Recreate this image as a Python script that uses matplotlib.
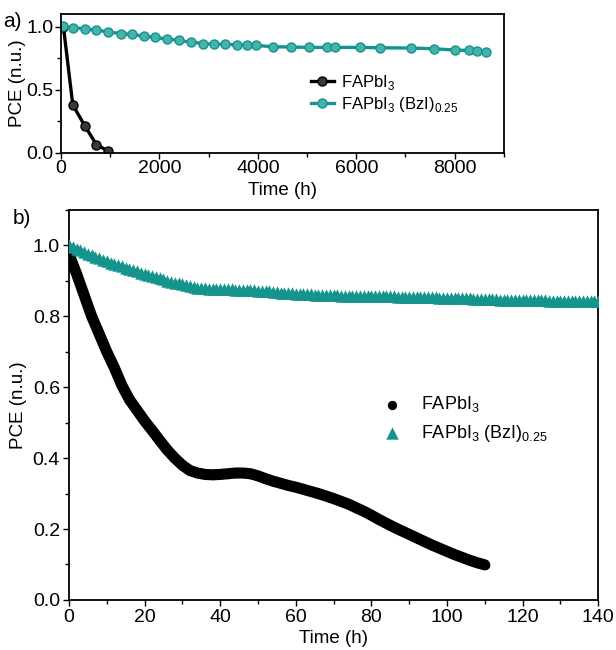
import matplotlib
matplotlib.use("Agg")
import matplotlib.pyplot as plt
from matplotlib.ticker import MultipleLocator

plt.rcParams['font.family'] = ['Liberation Sans', 'DejaVu Sans']
plt.rcParams['mathtext.fontset'] = 'custom'
plt.rcParams['mathtext.rm'] = 'Liberation Sans'

TEAL = '#15948e'

# a) long-term stability, sampled every few hundred hours
t_long_ref = [50, 240, 490, 720, 950]
pce_long_ref = [1.00, 0.38, 0.21, 0.065, 0.015]

t_long_bzi = [50, 240, 490, 720, 960, 1210, 1440, 1690, 1920, 2160, 2400,
              2640, 2880, 3110, 3340, 3570, 3790, 3960, 4310, 4680, 5040,
              5410, 5560, 6070, 6480, 7110, 7590, 8000, 8290, 8450, 8640]
pce_long_bzi = [1.005, 0.995, 0.984, 0.974, 0.960, 0.947, 0.940, 0.926,
                0.916, 0.903, 0.892, 0.879, 0.868, 0.863, 0.861, 0.858,
                0.853, 0.853, 0.842, 0.840, 0.837, 0.837, 0.837, 0.837,
                0.834, 0.832, 0.826, 0.816, 0.813, 0.810, 0.803]

# b) first 140 h
t_short_ref = list(range(0, 111, 2))
pce_short_ref = [0.975, 0.92, 0.86, 0.80, 0.75, 0.70, 0.655, 0.605, 0.565,
                 0.535, 0.505, 0.478, 0.45, 0.423, 0.40, 0.38, 0.365, 0.358,
                 0.354, 0.353, 0.354, 0.356, 0.358, 0.358, 0.356, 0.35,
                 0.342, 0.335, 0.329, 0.323, 0.318, 0.312, 0.306, 0.30,
                 0.293, 0.286, 0.278, 0.27, 0.26, 0.25, 0.239, 0.227, 0.216,
                 0.205, 0.195, 0.185, 0.175, 0.165, 0.155, 0.146, 0.137,
                 0.128, 0.12, 0.112, 0.105, 0.099]

t_short_bzi = list(range(0, 141))
pce_short_bzi = [
    1.000, 0.995, 0.991, 0.986, 0.982, 0.977, 0.973, 0.968, 0.964, 0.959,
    0.955, 0.951, 0.948, 0.944, 0.941, 0.937, 0.934, 0.930, 0.927, 0.923,
    0.920, 0.917, 0.914, 0.910, 0.907, 0.904, 0.901, 0.898, 0.895, 0.893,
    0.890, 0.888, 0.885, 0.883, 0.881, 0.880, 0.879, 0.878, 0.878, 0.877,
    0.877, 0.877, 0.876, 0.876, 0.875, 0.875, 0.874, 0.874, 0.873, 0.873,
    0.872, 0.871, 0.871, 0.870, 0.869, 0.868, 0.867, 0.866, 0.866, 0.865,
    0.864, 0.863, 0.863, 0.862, 0.862, 0.861, 0.861, 0.860, 0.860, 0.859,
    0.859, 0.859, 0.858, 0.858, 0.858, 0.858, 0.857, 0.857, 0.857, 0.857,
    0.857, 0.857, 0.856, 0.856, 0.856, 0.856, 0.856, 0.855, 0.855, 0.855,
    0.855, 0.855, 0.855, 0.854, 0.854, 0.854, 0.854, 0.854, 0.853, 0.853,
    0.853, 0.853, 0.852, 0.852, 0.852, 0.851, 0.851, 0.850, 0.850, 0.849,
    0.849, 0.849, 0.848, 0.848, 0.847, 0.847, 0.847, 0.846, 0.846, 0.846,
    0.846, 0.846, 0.845, 0.845, 0.845, 0.845, 0.845, 0.844, 0.844, 0.844,
    0.844, 0.844, 0.843, 0.843, 0.843, 0.843, 0.843, 0.842, 0.842, 0.842,
    0.842]

LBL_REF = r'FAPbI$_3$'
LBL_BZI = r'FAPbI$_3$ (BzI)$_{0.25}$'


def style_axes(ax, pad):
    for sp in ax.spines.values():
        sp.set_linewidth(1.3)
    ax.tick_params(which='both', direction='out', top=False, right=False,
                   labelsize=14, width=1.0, pad=pad)
    ax.tick_params(which='major', length=4.5)
    ax.tick_params(which='minor', length=3)


fig = plt.figure(figsize=(6.16, 6.50), dpi=100)

# panel a
ax1 = fig.add_axes([0.099, 0.765, 0.719, 0.213])
ax1.plot(t_long_ref, pce_long_ref, '-o', color='black', lw=2.4, ms=6.5,
         mfc='#3a3a3a', mec='black', mew=1.0, label=LBL_REF)
ax1.plot(t_long_bzi, pce_long_bzi, '-o', color=TEAL, lw=2.4, ms=6.5,
         mfc='#45b3ab', mec=TEAL, mew=1.0, label=LBL_BZI)
ax1.set_xlim(0, 9000)
ax1.set_ylim(0, 1.1)
ax1.xaxis.set_major_locator(MultipleLocator(2000))
ax1.xaxis.set_minor_locator(MultipleLocator(1000))
ax1.yaxis.set_major_locator(MultipleLocator(0.5))
ax1.yaxis.set_minor_locator(MultipleLocator(0.25))
style_axes(ax1, 1)
ax1.set_xlabel('Time (h)', fontsize=13.5, labelpad=3)
ax1.set_ylabel('PCE (n.u.)', fontsize=13.5, labelpad=0)
ax1.legend(loc='center left', bbox_to_anchor=(0.53, 0.43), frameon=False,
           fontsize=12, handlelength=1.4, handletextpad=0.4,
           labelspacing=0.2)
fig.text(0.005, 0.958, 'a)', fontsize=15)

# panel b: the FAPbI3 points are dense enough to merge into one thick band
ax2 = fig.add_axes([0.112, 0.077, 0.859, 0.6])
ax2.plot(t_short_ref, pce_short_ref, '-', color='black', lw=8,
         solid_capstyle='round', solid_joinstyle='round', zorder=2)
ax2.scatter(t_short_ref, pce_short_ref, s=45, color='black', linewidths=0,
            zorder=2, label=LBL_REF)
ax2.scatter(t_short_bzi, pce_short_bzi, s=80, marker='^', color=TEAL,
            linewidths=0, zorder=3, label=LBL_BZI)
ax2.set_xlim(0, 140)
ax2.set_ylim(0, 1.1)
ax2.xaxis.set_major_locator(MultipleLocator(20))
ax2.xaxis.set_minor_locator(MultipleLocator(10))
ax2.yaxis.set_major_locator(MultipleLocator(0.2))
ax2.yaxis.set_minor_locator(MultipleLocator(0.1))
ax2.yaxis.set_major_formatter(plt.FormatStrFormatter('%.1f'))
style_axes(ax2, 2)
ax2.set_xlabel('Time (h)', fontsize=13.5, labelpad=3)
ax2.set_ylabel('PCE (n.u.)', fontsize=13.5, labelpad=4)
ax2.legend(loc='center left', bbox_to_anchor=(0.545, 0.464),
           frameon=False, fontsize=13, handletextpad=0.6,
           labelspacing=0.45)
fig.text(0.02, 0.655, 'b)', fontsize=15)

fig.savefig('out.png', dpi=100)
